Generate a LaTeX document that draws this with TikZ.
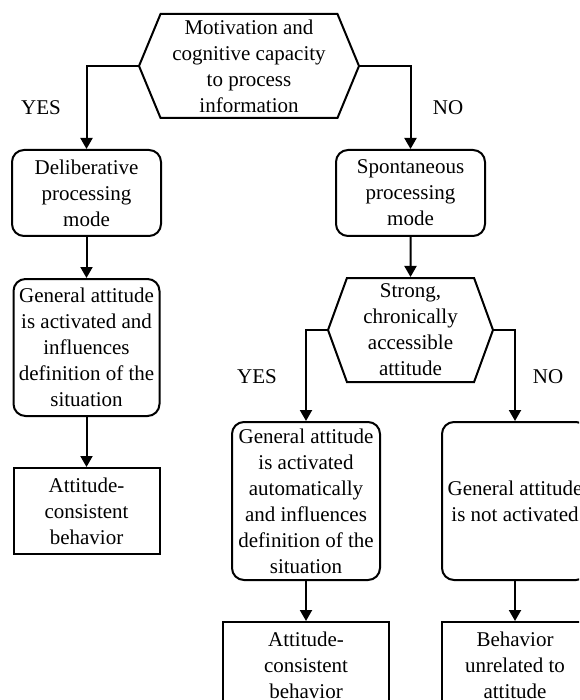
\documentclass[tikz,border=0pt]{standalone}
\usepackage{fontspec}
\setmainfont{Liberation Serif}
\usepackage{tikz}
\usetikzlibrary{positioning, shapes.symbols}
\usetikzlibrary{arrows.meta}

\begin{document}
\begin{tikzpicture}[x=1pt, y=-1pt, font=\fontsize{21}{26}\selectfont, align=center, >={Triangle[width=12pt, length=11pt]}, line width=2pt,
    roundbox/.style={draw, rounded corners=12pt, inner sep=2pt},
    endbox/.style={draw, rectangle, inner sep=2pt},
    decision/.style={draw, signal, signal to=west and east, inner sep=1pt}]
        \useasboundingbox (0,0) rectangle (579,700);
        \clip (0,0) rectangle (579,700);

        % Nodes
        \node[decision, signal pointer angle=135, minimum width=220pt, minimum height=104pt] (motiv) at (249,66) {Motivation and\\cognitive capacity\\to process\\information};
        \node[roundbox, minimum width=149pt, minimum height=86pt] (delib) at (86.5,193) {Deliberative\\processing\\mode};
        \node[roundbox, minimum width=149pt, minimum height=86pt] (spont) at (410.5,193) {Spontaneous\\processing\\mode};

        \node[roundbox, below=41pt of delib, minimum width=146pt, minimum height=137pt] (genL) {General attitude\\is activated and\\influences\\definition of the\\situation};
        \node[endbox, below=50pt of genL, minimum width=146pt, minimum height=86pt] (behL) {Attitude-\\consistent\\behavior};

        \node[decision, below=40pt of spont, signal pointer angle=140, minimum width=165pt, minimum height=104pt] (strong) {Strong,\\chronically\\accessible\\attitude};
        \node[roundbox, minimum width=148pt, minimum height=158pt] (genA) at (306,501) {General attitude\\is activated\\automatically\\and influences\\definition of the\\situation};
        \node[roundbox, minimum width=146pt, minimum height=158pt] (genN) at (515,501) {General attitude\\is not activated};
        \node[endbox, below=40pt of genA, minimum width=166pt, minimum height=86pt] (behA) {Attitude-\\consistent\\behavior};
        \node[endbox, below=40pt of genN, minimum width=146pt, minimum height=86pt] (behN) {Behavior\\unrelated to\\attitude};

        % Labels
        \node (yes1) at (41,108) {YES};
        \node (no1) at (448,108) {NO};
        \node (yes2) at (257,377) {YES};
        \node (no2) at (548,377) {NO};

        % Edges
        \draw[->] (motiv.west) -| (delib.north);
        \draw[->] (motiv.east) -| (spont.north);
        \draw[->] (strong.west) -| (genA.north);
        \draw[->] (strong.east) -| (genN.north);
        \foreach \a/\b in {delib/genL, genL/behL, spont/strong, genA/behA, genN/behN} {
            \draw[->] (\a) -- (\b);
        }
    \end{tikzpicture}
\end{document}
